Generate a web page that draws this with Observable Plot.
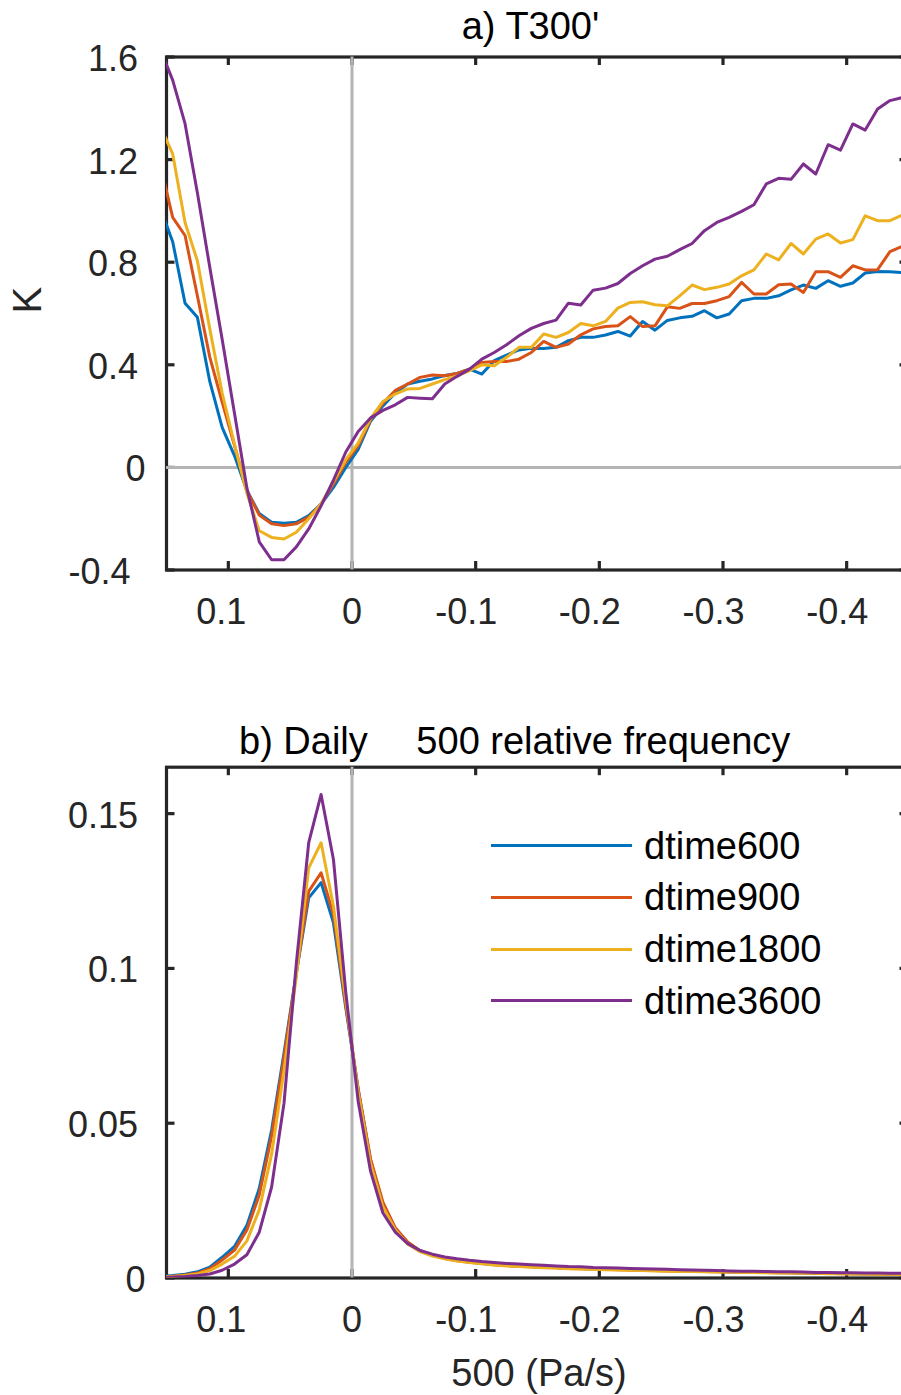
<!DOCTYPE html>
<html>
<head>
<meta charset="utf-8">
<script src="https://cdn.jsdelivr.net/npm/d3@7"></script>
<script src="https://cdn.jsdelivr.net/npm/@observablehq/plot@0.6"></script>
<style>
  html, body { margin: 0; padding: 0; background: #fff; overflow: hidden; }
  #fig { position: relative; width: 901px; height: 1395px; overflow: hidden; background: #fff;
         font-family: 'Liberation Sans', Arial, Helvetica, sans-serif; color: #262626; }
  #fig svg { max-width: none !important; height: auto; display: block; }
  #panelA { position: absolute; left: 0; top: 0; width: 910px; }
  #panelB { position: absolute; left: 0; top: 680px; width: 910px; }
  #legend { position: absolute; left: 491px; top: 819.85px; }
  .lrow { display: flex; align-items: center; height: 51.7px; }
  .lline { width: 141px; height: 0; border-top: 3px solid; margin-right: 12px; }
  .ltext { font-size: 38px; line-height: 1; color: #000; white-space: nowrap; }
</style>
</head>
<body>
<div id="fig">
  <div id="panelA"></div>
  <div id="panelB"></div>
  <div id="legend"></div>
</div>
<script>
// ---------------- data ----------------
const omegaBins = [0.155, 0.145, 0.135, 0.125, 0.115, 0.105, 0.095, 0.085, 0.075, 0.065, 0.055, 0.045, 0.035, 0.025, 0.015, 0.005,
  -0.005, -0.015, -0.025, -0.035, -0.045, -0.055, -0.065, -0.075, -0.085, -0.095,
  -0.105, -0.115, -0.125, -0.135, -0.145, -0.155, -0.165, -0.175, -0.185, -0.195,
  -0.205, -0.215, -0.225, -0.235, -0.245, -0.255, -0.265, -0.275, -0.285, -0.295,
  -0.305, -0.315, -0.325, -0.335, -0.345, -0.355, -0.365, -0.375, -0.385, -0.395,
  -0.405, -0.415, -0.425, -0.435, -0.445];

const seriesNames = ["dtime600", "dtime900", "dtime1800", "dtime3600"];
const seriesColors = ["#0072BD", "#D95319", "#EDB120", "#7E2F8E"];

// panel a) T300' (K)
const t300_dt600 = [1.01, 0.88, 0.64, 0.585, 0.335, 0.156, 0.045, -0.09, -0.18, -0.214, -0.218, -0.214, -0.188, -0.143, -0.078, 0.0,
  0.07, 0.18, 0.24, 0.29, 0.325, 0.336, 0.345, 0.358, 0.366, 0.383,
  0.364, 0.416, 0.438, 0.458, 0.464, 0.464, 0.468, 0.494, 0.507, 0.507,
  0.516, 0.53, 0.512, 0.569, 0.535, 0.573, 0.583, 0.589, 0.611, 0.583,
  0.598, 0.65, 0.659, 0.659, 0.669, 0.692, 0.711, 0.698, 0.728, 0.706,
  0.719, 0.758, 0.764, 0.763, 0.759];
const t300_dt900 = [1.18, 0.975, 0.904, 0.668, 0.43, 0.255, 0.085, -0.09, -0.186, -0.22, -0.227, -0.22, -0.194, -0.143, -0.065, 0.02,
  0.085, 0.185, 0.25, 0.30, 0.325, 0.351, 0.36, 0.357, 0.366, 0.383,
  0.409, 0.413, 0.413, 0.422, 0.448, 0.491, 0.468, 0.481, 0.517, 0.54,
  0.549, 0.552, 0.588, 0.549, 0.552, 0.626, 0.62, 0.639, 0.639, 0.65,
  0.666, 0.721, 0.676, 0.676, 0.712, 0.715, 0.682, 0.763, 0.763, 0.741,
  0.786, 0.77, 0.771, 0.841, 0.862];
const t300_dt1800 = [1.33, 1.222, 0.955, 0.805, 0.54, 0.29, 0.09, -0.1, -0.247, -0.273, -0.279, -0.253, -0.2, -0.143, -0.055, 0.03,
  0.095, 0.19, 0.257, 0.286, 0.306, 0.308, 0.325, 0.342, 0.357, 0.377,
  0.40, 0.396, 0.429, 0.468, 0.468, 0.52, 0.507, 0.526, 0.561, 0.552,
  0.569, 0.621, 0.643, 0.646, 0.634, 0.63, 0.669, 0.711, 0.693, 0.702,
  0.715, 0.747, 0.77, 0.832, 0.809, 0.873, 0.832, 0.89, 0.91, 0.875,
  0.888, 0.981, 0.962, 0.962, 0.984];
const t300_dt3600 = [1.63, 1.51, 1.34, 1.07, 0.78, 0.50, 0.21, -0.08, -0.29, -0.36, -0.36, -0.31, -0.24, -0.15, -0.05, 0.06,
  0.14, 0.193, 0.222, 0.244, 0.273, 0.27, 0.268, 0.325, 0.355, 0.383,
  0.422, 0.448, 0.478, 0.513, 0.542, 0.561, 0.574, 0.64, 0.633, 0.691,
  0.699, 0.717, 0.756, 0.786, 0.812, 0.823, 0.849, 0.873, 0.923, 0.955,
  0.975, 0.998, 1.024, 1.105, 1.127, 1.123, 1.183, 1.144, 1.258, 1.237,
  1.339, 1.315, 1.397, 1.43, 1.442];

// panel b) daily omega500 relative frequency
const freq_dt600 = [0.0005, 0.0008, 0.0012, 0.002, 0.0035, 0.0067, 0.0102, 0.017, 0.0289, 0.0478, 0.0726, 0.0985, 0.1228, 0.1277, 0.1147, 0.0872,
  0.061, 0.038, 0.024, 0.016, 0.0115, 0.0088, 0.0074, 0.0064, 0.0057, 0.0052,
  0.0048, 0.0044, 0.0041, 0.0039, 0.0037, 0.0035, 0.0034, 0.0032, 0.0031, 0.0030,
  0.0029, 0.0028, 0.0027, 0.0026, 0.0025, 0.0024, 0.0023, 0.0022, 0.0021, 0.0021,
  0.0020, 0.0019, 0.0019, 0.0018, 0.0018, 0.0017, 0.0016, 0.0016, 0.0015, 0.0015,
  0.0014, 0.0014, 0.0013, 0.0013, 0.0012];
const freq_dt900 = [0.0004, 0.0006, 0.001, 0.0016, 0.003, 0.0058, 0.009, 0.0155, 0.0268, 0.0458, 0.0712, 0.0985, 0.1249, 0.1309, 0.1174, 0.088,
  0.061, 0.0385, 0.0245, 0.0162, 0.0116, 0.0088, 0.0073, 0.0063, 0.0056, 0.0051,
  0.0047, 0.0043, 0.0040, 0.0038, 0.0036, 0.0034, 0.0033, 0.0031, 0.0030, 0.0029,
  0.0028, 0.0027, 0.0026, 0.0025, 0.0024, 0.0023, 0.0022, 0.0021, 0.0021, 0.0020,
  0.0019, 0.0019, 0.0018, 0.0018, 0.0017, 0.0017, 0.0016, 0.0015, 0.0015, 0.0014,
  0.0014, 0.0013, 0.0013, 0.0012, 0.0012];
const freq_dt1800 = [0.0003, 0.0005, 0.0008, 0.0013, 0.0024, 0.0045, 0.007, 0.012, 0.022, 0.040, 0.067, 0.0975, 0.1325, 0.1406, 0.1201, 0.0897,
  0.060, 0.037, 0.023, 0.0155, 0.011, 0.0085, 0.0071, 0.0062, 0.0055, 0.0050,
  0.0046, 0.0042, 0.0039, 0.0037, 0.0035, 0.0033, 0.0032, 0.0030, 0.0029, 0.0028,
  0.0027, 0.0026, 0.0025, 0.0024, 0.0023, 0.0022, 0.0021, 0.0021, 0.0020, 0.0019,
  0.0019, 0.0018, 0.0018, 0.0017, 0.0016, 0.0016, 0.0015, 0.0015, 0.0014, 0.0014,
  0.0013, 0.0013, 0.0012, 0.0012, 0.0011];
const freq_dt3600 = [0.0002, 0.0003, 0.0005, 0.0008, 0.0013, 0.0025, 0.0045, 0.0075, 0.0148, 0.0294, 0.0564, 0.1017, 0.1406, 0.1562, 0.1352, 0.0922,
  0.057, 0.0345, 0.021, 0.0148, 0.0111, 0.0089, 0.0077, 0.0068, 0.0062, 0.0057,
  0.0053, 0.0050, 0.0047, 0.0045, 0.0043, 0.0041, 0.0039, 0.0037, 0.0036, 0.0034,
  0.0033, 0.0032, 0.0031, 0.0030, 0.0029, 0.0028, 0.0027, 0.0026, 0.0025, 0.0024,
  0.0023, 0.0022, 0.0022, 0.0021, 0.0020, 0.0020, 0.0019, 0.0018, 0.0018, 0.0017,
  0.0017, 0.0016, 0.0016, 0.0015, 0.0015];

// ticks and labels
const xTicks = [0.1, 0, -0.1, -0.2, -0.3, -0.4];
const xTickLabels = ["0.1", "0", "-0.1", "-0.2", "-0.3", "-0.4"];
const yTicksA = [-0.4, 0, 0.4, 0.8, 1.2, 1.6];
const yTickLabelsA = ["-0.4", "0", "0.4", "0.8", "1.2", "1.6"];
const yTicksB = [0, 0.05, 0.1, 0.15];
const yTickLabelsB = ["0", "0.05", "0.1", "0.15"];

const titleA = "a) T300'";
const titleB = "b) Daily\u2003\u00a0500 relative frequency";
const yLabelA = "K";
const xLabelB = "500 (Pa/s)";

// ---------------- helpers ----------------
const ink = "#262626";
const gray = "#b4b4b4";
const font = "'Liberation Sans', Arial, Helvetica, sans-serif";
const tickLen = 8.5;
const frameW = 3.2;
const lineW = 3;

function tidy(arrays) {
  return arrays.flatMap((vals, i) => vals.map((v, j) => ({x: omegaBins[j], y: v, series: seriesNames[i]})));
}
const ticksOf = (vals, labels) => vals.map((v, i) => ({v, label: labels[i]}));

function panel({width, height, mt, mb, ml, mr, ydomain, data, yTicks, yLabels, extra, hZero}) {
  const pw = width - ml - mr, ph = height - mt - mb;
  const xt = ticksOf(xTicks, xTickLabels);
  const yt = ticksOf(yTicks, yLabels);
  const xl = (filter, dx) => Plot.text(xt, {filter, x: "v", text: "label", frameAnchor: "bottom", dy: 42.5, dx, lineAnchor: "middle", fontSize: 36, fill: ink});
  const yl = (filter, dx) => Plot.text(yt, {filter, y: "v", text: "label", frameAnchor: "left", dx, dy: 2.5, textAnchor: "end", lineAnchor: "middle", fontSize: 36, fill: ink});
  return Plot.plot({
    width, height, marginTop: mt, marginBottom: mb, marginLeft: ml, marginRight: mr,
    x: {domain: [0.15, -0.45], axis: null},
    y: {domain: ydomain, axis: null},
    color: {domain: seriesNames, range: seriesColors},
    style: {fontFamily: font, background: "transparent", overflow: "visible", color: ink, maxWidth: "none"},
    marks: [
      Plot.frame({stroke: ink, strokeWidth: frameW}),
      // inward ticks on all four sides
      Plot.ruleX(xTicks, {x: d => d, insetTop: ph - tickLen, stroke: ink, strokeWidth: frameW}),
      Plot.ruleX(xTicks, {x: d => d, insetBottom: ph - tickLen, stroke: ink, strokeWidth: frameW}),
      Plot.ruleY(yTicks, {y: d => d, insetRight: pw - tickLen, stroke: ink, strokeWidth: frameW}),
      Plot.ruleY(yTicks, {y: d => d, insetLeft: pw - tickLen, stroke: ink, strokeWidth: frameW}),
      // zero reference lines
      Plot.ruleX([0], {stroke: gray, strokeWidth: 3}),
      hZero ? Plot.ruleY([0], {stroke: gray, strokeWidth: 3}) : null,
      // data
      Plot.line(data, {x: "x", y: "y", z: "series", stroke: "series", strokeWidth: lineW, clip: true, strokeLinejoin: "round"}),
      // tick labels
      xl(d => d.v === 0, 0),
      xl(d => d.v > 0, -7),
      xl(d => d.v < 0, -9.5),
      yl(d => d.v === 0, -21),
      yl(d => d.v > 0, -28.5),
      yl(d => d.v < 0, -36),
      ...extra
    ]
  });
}

const chartA = panel({
  width: 910, height: 680, mt: 56.5, mb: 110.5, ml: 166, mr: 2,
  ydomain: [-0.4, 1.6],
  data: tidy([t300_dt600, t300_dt900, t300_dt1800, t300_dt3600]),
  yTicks: yTicksA, yLabels: yTickLabelsA, hZero: true,
  extra: [
    Plot.text([titleA], {text: d => d, frameAnchor: "top", dy: -44.5, dx: -7, lineAnchor: "top", fontSize: 38, fill: "#000"}),
    Plot.text([yLabelA], {text: d => d, frameAnchor: "left", dx: -138.5, rotate: -90, lineAnchor: "middle", fontSize: 40, fill: ink})
  ]
});

const chartB = panel({
  width: 910, height: 715, mt: 86.7, mb: 117.5, ml: 166, mr: 2,
  ydomain: [0, 0.165],
  data: tidy([freq_dt600, freq_dt900, freq_dt1800, freq_dt3600]),
  yTicks: yTicksB, yLabels: yTickLabelsB, hZero: false,
  extra: [
    Plot.text([titleB], {text: d => d, frameAnchor: "top-left", dx: 72.5, dy: -40, textAnchor: "start", lineAnchor: "top", fontSize: 38, fill: "#000"}),
    Plot.text([xLabelB], {text: d => d, frameAnchor: "bottom", dy: 81, dx: 1.5, lineAnchor: "top", fontSize: 38, fill: ink})
  ]
});

for (const svg of [chartA, chartB]) {
  svg.style.maxWidth = "none";
  svg.style.width = "910px";
}
document.getElementById("panelA").appendChild(chartA);
document.getElementById("panelB").appendChild(chartB);

// legend
const legend = document.getElementById("legend");
seriesNames.forEach((name, i) => {
  const row = document.createElement("div");
  row.className = "lrow";
  const line = document.createElement("div");
  line.className = "lline";
  line.style.borderTopColor = seriesColors[i];
  const txt = document.createElement("span");
  txt.className = "ltext";
  txt.textContent = name;
  row.appendChild(line);
  row.appendChild(txt);
  legend.appendChild(row);
});
</script>
</body>
</html>
